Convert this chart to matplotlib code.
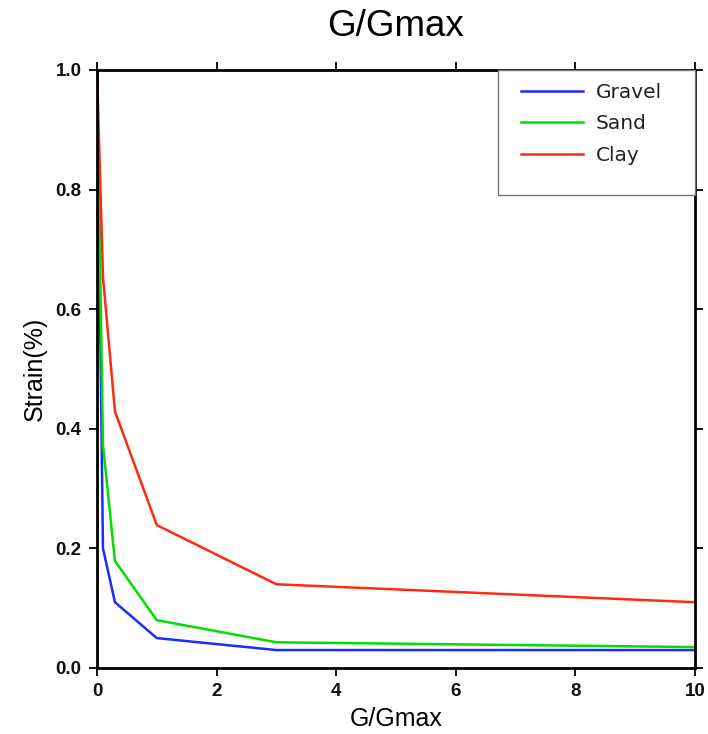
import matplotlib
matplotlib.use("Agg")
import matplotlib.pyplot as plt
from matplotlib.patches import Rectangle
from matplotlib.ticker import FormatStrFormatter

strain = [0.0, 0.1, 0.3, 1.0, 3.0, 10.0]
gravel = [1.0, 0.20, 0.11, 0.05, 0.03, 0.03]
sand = [1.0, 0.373, 0.179, 0.08, 0.043, 0.035]
clay = [1.0, 0.654, 0.429, 0.239, 0.14, 0.11]
series_names = ["Gravel", "Sand", "Clay"]
series_colors = ["#1a2cff", "#00e000", "#ff2a14"]
x_ticks = [0, 2, 4, 6, 8, 10]
y_ticks = [0.0, 0.2, 0.4, 0.6, 0.8, 1.0]

W, H = 708, 734
fig = plt.figure(figsize=(W / 100, H / 100), dpi=100)
L, R, T, B = 97, 695, 70, 668
ax = fig.add_axes([L / W, (H - B) / H, (R - L) / W, (B - T) / H])

narrow = ["Liberation Sans Narrow", "Liberation Sans", "DejaVu Sans"]
helv = ["Liberation Sans", "DejaVu Sans"]

for vals, name, col in zip([gravel, sand, clay], series_names, series_colors):
    ax.plot(strain, vals, color=col, lw=1.8, label=name, solid_joinstyle="miter")

ax.set_xlim(0, 10)
ax.set_ylim(0, 1.0)
ax.set_xticks(x_ticks)
ax.set_yticks(y_ticks)
ax.yaxis.set_major_formatter(FormatStrFormatter("%.1f"))
ax.tick_params(direction="out", length=6, width=1.3, top=True, right=True,
               labelsize=13.5, pad=5)
for lab in ax.get_xticklabels() + ax.get_yticklabels():
    lab.set_family(helv)
    lab.set_fontweight("bold")
    lab.set_color("#111111")
for s in ax.spines.values():
    s.set_linewidth(2.0)

ax.set_xlabel("G/Gmax", fontsize=18, family=narrow, labelpad=5)
ax.set_ylabel("Strain(%)", fontsize=18, family=narrow, labelpad=6)
fig.text((L + R) / 2 / W, 1 - 27 / H, "G/Gmax", ha="center", va="center",
         fontsize=26.5, family=helv)

# legend box
bx0 = (498 - L) / (R - L)
by0 = (B - 195) / (B - T)
ax.add_patch(Rectangle((bx0, by0), 1 - bx0, 1 - by0, transform=ax.transAxes,
                       facecolor="white", edgecolor="#777777", lw=1.0, zorder=4,
                       clip_on=False))
leg = ax.legend(loc="upper left", bbox_to_anchor=((521 - L) / (R - L), (B - 83) / (B - T)),
                frameon=False, handlelength=3.1, handletextpad=0.6,
                labelspacing=0.62, borderaxespad=0, borderpad=0,
                prop={"family": "DejaVu Sans", "size": 14.5})
leg.set_zorder(5)
for t in leg.get_texts():
    t.set_color("#222222")

fig.savefig("out.png", dpi=100)
